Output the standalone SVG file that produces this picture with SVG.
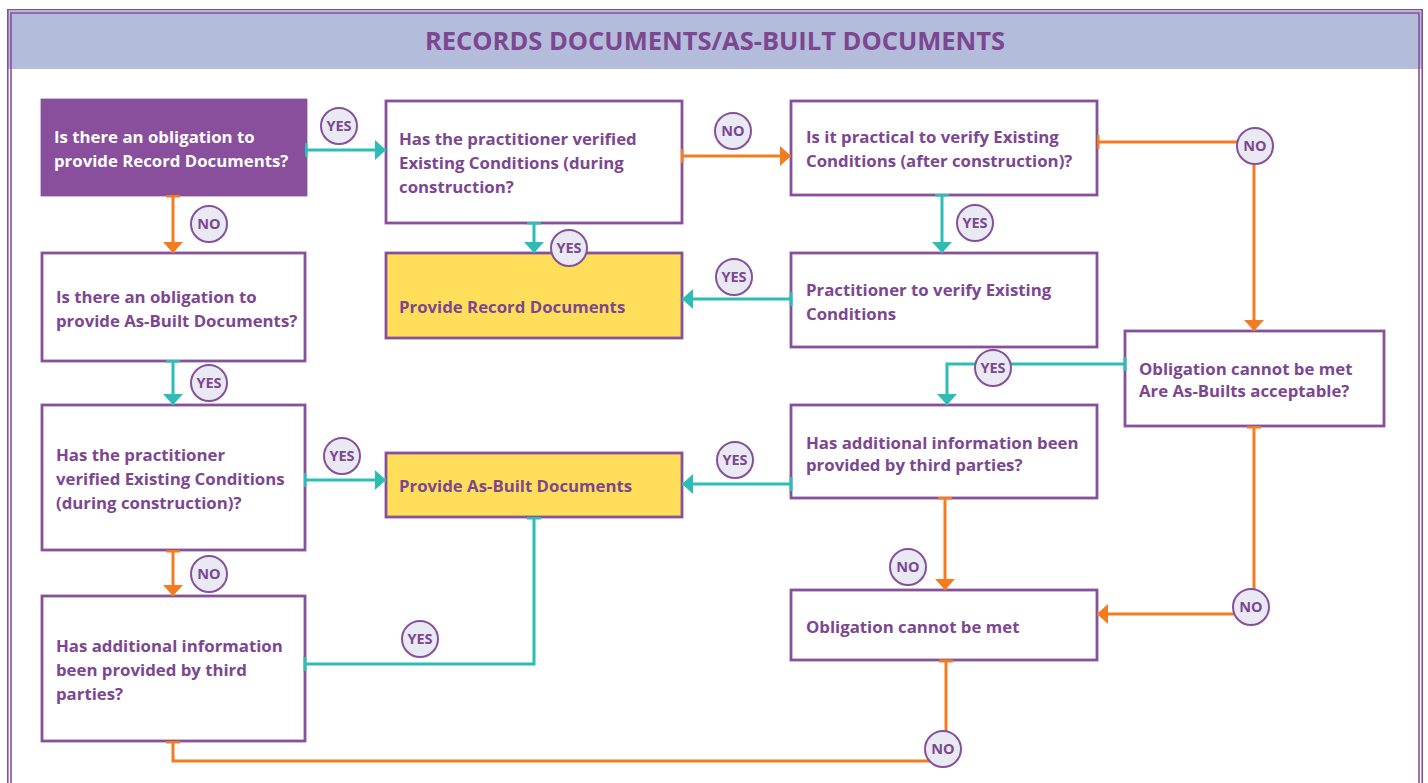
<svg xmlns="http://www.w3.org/2000/svg" width="1428" height="783" viewBox="0 0 1428 783">
<defs>
<style>
.box{fill:#ffffff;stroke:#87509b;stroke-width:2.8}
.pbox{fill:#8a4f9c;stroke:#87509b;stroke-width:2.8}
.ybox{fill:#ffdf5a;stroke:#87509b;stroke-width:2.8}
.t{font-family:"Open Sans","Liberation Sans",sans-serif;font-weight:700;font-size:16.8px;fill:#7d4690}
.tw{fill:#ffffff}
.teal{fill:none;stroke:#2dbdb6;stroke-width:3}
.orng{fill:none;stroke:#f47c20;stroke-width:3}
.lbl circle{fill:#e8e9f3;stroke:#87509b;stroke-width:2}
.lbl text{font-family:"Open Sans","Liberation Sans",sans-serif;font-weight:700;font-size:14.5px;fill:#7d4690;text-anchor:middle}
.frame{fill:none;stroke:#87509b;stroke-width:1.6}
</style>
<marker id="aT" markerUnits="userSpaceOnUse" markerWidth="12" markerHeight="20" viewBox="0 0 12 20" refX="11" refY="10" orient="auto"><path d="M0,0 L11,10 L0,20 z" fill="#2dbdb6"/></marker>
<marker id="aO" markerUnits="userSpaceOnUse" markerWidth="12" markerHeight="20" viewBox="0 0 12 20" refX="11" refY="10" orient="auto"><path d="M0,0 L11,10 L0,20 z" fill="#f47c20"/></marker>
<marker id="kT" markerUnits="userSpaceOnUse" markerWidth="4" markerHeight="14" viewBox="0 0 4 14" refX="1.5" refY="7" orient="auto"><rect x="0" y="0" width="3" height="14" fill="#2dbdb6"/></marker>
<marker id="kO" markerUnits="userSpaceOnUse" markerWidth="4" markerHeight="14" viewBox="0 0 4 14" refX="1.5" refY="7" orient="auto"><rect x="0" y="0" width="3" height="14" fill="#f47c20"/></marker>
</defs>
<rect x="0" y="0" width="1428" height="783" fill="#ffffff"/>
<g id="header">
<rect x="7" y="11" width="1416" height="58" fill="#b3bcdb"/>
<path class="frame" d="M7.8,783 V9.8 H1422.2 V783"/>
<path class="frame" d="M11,783 V13 H1419 V783"/>
<text x="715" y="50" text-anchor="middle" style="font-family:'Open Sans','Liberation Sans',sans-serif;font-weight:700;font-size:25.5px;fill:#7d4690">RECORDS DOCUMENTS/AS-BUILT DOCUMENTS</text>
</g>
<g id="n1"><rect class="pbox" x="42" y="100" width="264" height="95"/><text class="t tw" x="54"><tspan x="54" y="143">Is there an obligation to</tspan><tspan x="54" y="167">provide Record Documents?</tspan></text></g>
<g id="n2"><rect class="box" x="386" y="101" width="296" height="122"/><text class="t" x="399"><tspan x="399" y="145">Has the practitioner verified</tspan><tspan x="399" y="169">Existing Conditions (during</tspan><tspan x="399" y="193">construction?</tspan></text></g>
<g id="n3"><rect class="box" x="791" y="101" width="306" height="94"/><text class="t" x="806"><tspan x="806" y="143">Is it practical to verify Existing</tspan><tspan x="806" y="167">Conditions (after construction)?</tspan></text></g>
<g id="n4"><rect class="ybox" x="386" y="253" width="296" height="85"/><text class="t" x="399" y="313">Provide Record Documents</text></g>
<g id="n5"><rect class="box" x="791" y="253" width="306" height="94"/><text class="t" x="806"><tspan x="806" y="296">Practitioner to verify Existing</tspan><tspan x="806" y="320">Conditions</tspan></text></g>
<g id="n6"><rect class="box" x="42" y="253" width="263" height="108"/><text class="t" x="56"><tspan x="56" y="303">Is there an obligation to</tspan><tspan x="56" y="327">provide As-Built Documents?</tspan></text></g>
<g id="n7"><rect class="box" x="1125" y="331" width="259" height="95"/><text class="t" x="1139"><tspan x="1139" y="375">Obligation cannot be met</tspan><tspan x="1139" y="397">Are As-Builts acceptable?</tspan></text></g>
<g id="n8"><rect class="box" x="42" y="405" width="263" height="145"/><text class="t" x="56"><tspan x="56" y="461">Has the practitioner</tspan><tspan x="56" y="485">verified Existing Conditions</tspan><tspan x="56" y="509">(during construction)?</tspan></text></g>
<g id="n9"><rect class="ybox" x="386" y="453" width="296" height="64"/><text class="t" x="399" y="492">Provide As-Built Documents</text></g>
<g id="n10"><rect class="box" x="791" y="405" width="306" height="93"/><text class="t" x="806"><tspan x="806" y="449">Has additional information been</tspan><tspan x="806" y="471">provided by third parties?</tspan></text></g>
<g id="n11"><rect class="box" x="42" y="596" width="263" height="145"/><text class="t" x="56"><tspan x="56" y="652">Has additional information</tspan><tspan x="56" y="676">been provided by third</tspan><tspan x="56" y="700">parties?</tspan></text></g>
<g id="n12"><rect class="box" x="791" y="590" width="306" height="70"/><text class="t" x="806" y="633">Obligation cannot be met</text></g>
<g id="connectors">
<path class="teal" d="M306,150 H386" marker-start="url(#kT)" marker-end="url(#aT)"/>
<path class="orng" d="M173,196 V253" marker-start="url(#kO)" marker-end="url(#aO)"/>
<path class="orng" d="M682,156 H791" marker-start="url(#kO)" marker-end="url(#aO)"/>
<path class="teal" d="M534,223 V253" marker-start="url(#kT)" marker-end="url(#aT)"/>
<path class="orng" d="M1098,142 H1254 V331" marker-start="url(#kO)" marker-end="url(#aO)"/>
<path class="teal" d="M942,195 V253" marker-start="url(#kT)" marker-end="url(#aT)"/>
<path class="teal" d="M791,299 H682" marker-start="url(#kT)" marker-end="url(#aT)"/>
<path class="teal" d="M173,361 V405" marker-start="url(#kT)" marker-end="url(#aT)"/>
<path class="teal" d="M1125,364 H947 V405" marker-start="url(#kT)" marker-end="url(#aT)"/>
<path class="teal" d="M305,480 H386" marker-start="url(#kT)" marker-end="url(#aT)"/>
<path class="teal" d="M791,484 H682" marker-start="url(#kT)" marker-end="url(#aT)"/>
<path class="orng" d="M173,551 V596" marker-start="url(#kO)" marker-end="url(#aO)"/>
<path class="orng" d="M945,498 V590" marker-start="url(#kO)" marker-end="url(#aO)"/>
<path class="orng" d="M1254,427 V614 H1097" marker-start="url(#kO)" marker-end="url(#aO)"/>
<path class="teal" d="M534,518 V664 H305" marker-start="url(#kT)" marker-end="url(#kT)"/>
<path class="orng" d="M173,742 V761 H946 V661" marker-start="url(#kO)" marker-end="url(#kO)"/>
</g>
<g id="labels">
<g class="lbl"><circle cx="339" cy="126" r="18"/><text x="339" y="131">YES</text></g>
<g class="lbl"><circle cx="209" cy="224" r="18"/><text x="209" y="229">NO</text></g>
<g class="lbl"><circle cx="733" cy="131" r="18"/><text x="733" y="136">NO</text></g>
<g class="lbl"><circle cx="1255" cy="146" r="18"/><text x="1255" y="151">NO</text></g>
<g class="lbl"><circle cx="569" cy="248" r="18"/><text x="569" y="253">YES</text></g>
<g class="lbl"><circle cx="975" cy="223" r="18"/><text x="975" y="228">YES</text></g>
<g class="lbl"><circle cx="734" cy="277" r="18"/><text x="734" y="282">YES</text></g>
<g class="lbl"><circle cx="209" cy="383" r="18"/><text x="209" y="388">YES</text></g>
<g class="lbl"><circle cx="993" cy="368" r="18"/><text x="993" y="373">YES</text></g>
<g class="lbl"><circle cx="342" cy="456" r="18"/><text x="342" y="461">YES</text></g>
<g class="lbl"><circle cx="735" cy="460" r="18"/><text x="735" y="465">YES</text></g>
<g class="lbl"><circle cx="209" cy="574" r="18"/><text x="209" y="579">NO</text></g>
<g class="lbl"><circle cx="908" cy="567" r="18"/><text x="908" y="572">NO</text></g>
<g class="lbl"><circle cx="1251" cy="607" r="18"/><text x="1251" y="612">NO</text></g>
<g class="lbl"><circle cx="420" cy="639" r="18"/><text x="420" y="644">YES</text></g>
<g class="lbl"><circle cx="943" cy="749" r="18"/><text x="943" y="754">NO</text></g>
</g>
</svg>
